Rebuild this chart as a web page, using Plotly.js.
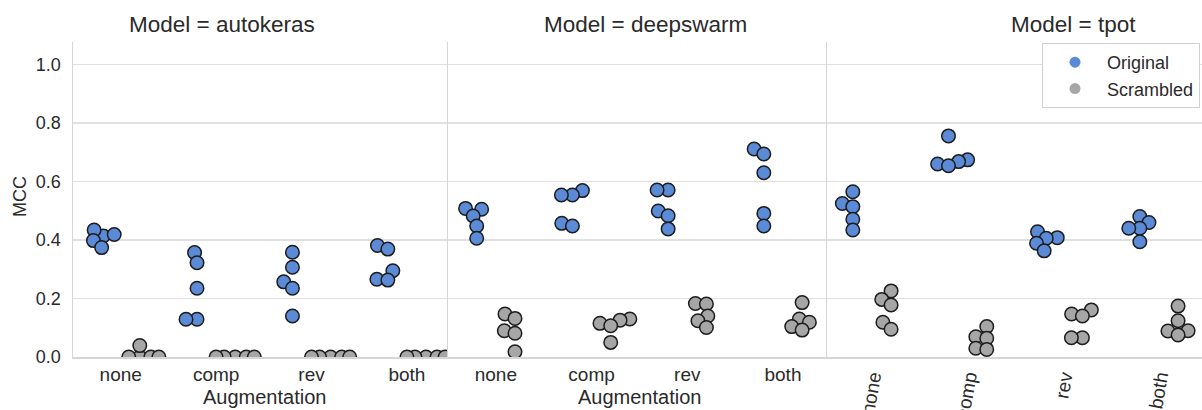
<!DOCTYPE html>
<html><head><meta charset="utf-8">
<script src="https://cdn.plot.ly/plotly-3.0.1.min.js"></script>
<style>html,body{margin:0;padding:0;background:#fff}#chart{width:1202px;height:410px}</style>
</head><body><div id="chart"></div>
<script>
// ---- data ----
const categories = ['none', 'comp', 'rev', 'both'];
const models = ['autokeras', 'deepswarm', 'tpot'];
const hues = ['Original', 'Scrambled'];
const yTicks = [0, 0.2, 0.4, 0.6, 0.8, 1.0];
const yTickText = ['0.0', '0.2', '0.4', '0.6', '0.8', '1.0'];

const autokerasOriginal = [[0.414, 0.434, 0.419, 0.398, 0.374], [0.357, 0.322, 0.235, 0.129, 0.129], [0.358, 0.307, 0.257, 0.235, 0.140], [0.381, 0.369, 0.295, 0.266, 0.263]];
const autokerasScrambled = [[0, 0, 0.039, 0, 0], [0, 0, 0, 0, 0], [0, 0, 0, 0, 0], [0, 0, 0, 0, 0]];
const deepswarmOriginal = [[0.505, 0.508, 0.482, 0.448, 0.406], [0.569, 0.554, 0.554, 0.457, 0.448], [0.571, 0.571, 0.499, 0.483, 0.438], [0.711, 0.694, 0.630, 0.491, 0.448]];
const deepswarmScrambled = [[0.147, 0.132, 0.090, 0.081, 0.018], [0.130, 0.126, 0.115, 0.107, 0.050], [0.183, 0.181, 0.140, 0.124, 0.101], [0.186, 0.130, 0.119, 0.104, 0.092]];
const tpotOriginal = [[0.565, 0.525, 0.514, 0.471, 0.434], [0.756, 0.674, 0.668, 0.660, 0.654], [0.428, 0.408, 0.406, 0.389, 0.363], [0.480, 0.460, 0.440, 0.440, 0.394]];
const tpotScrambled = [[0.226, 0.197, 0.178, 0.119, 0.095], [0.104, 0.069, 0.064, 0.030, 0.026], [0.161, 0.147, 0.140, 0.066, 0.066], [0.174, 0.124, 0.090, 0.089, 0.075]];

const seriesByModel = [
  [autokerasOriginal, autokerasScrambled],
  [deepswarmOriginal, deepswarmScrambled],
  [tpotOriginal, tpotScrambled]
];

// ---- layout geometry ----
const W = 1202, H = 410;
const M = {l: 73, r: 0, t: 42, b: 53};
const plotW = W - M.l - M.r, plotH = H - M.t - M.b;
const panelPx = [[73, 447], [448, 827], [827, 1202]];
const xRanges = [[-0.5, 3.42], [-0.5, 3.46], [-0.47, 3.45]];
const yRange = [0, 1.077];
const colors = ['#5b8ad6', '#a6a6a6'];
const dodge = [-0.2, 0.2];
const FONT = '"Liberation Sans", Arial, sans-serif';
const TXT = '#2a2a2a';

const domains = panelPx.map(p => [(p[0] - M.l) / plotW, (p[1] - M.l) / plotW]);
const pxPerUnit = plotH / (yRange[1] - yRange[0]);

// seaborn-like beeswarm, computed in pixel space
function swarm(vals, pxPerCat, d, halfWidthCat) {
  const idx = vals.map((v, i) => i).sort((a, b) => vals[a] - vals[b]);
  const placed = [];
  const out = new Array(vals.length);
  for (const i of idx) {
    const y = vals[i] * pxPerUnit;
    const nb = [];
    for (let k = placed.length - 1; k >= 0; k--) {
      if (y - placed[k].y < d) nb.push(placed[k]); else break;
    }
    let cands = [0];
    let leftFirst = true;
    for (const n of nb) {
      const dy = y - n.y;
      const dx = Math.sqrt(Math.max(d * d - dy * dy, 0)) * 1.05;
      if (leftFirst) cands.push(n.x - dx, n.x + dx); else cands.push(n.x + dx, n.x - dx);
      leftFirst = !leftFirst;
    }
    cands = cands.map((c, j) => [c, j]).sort((a, b) => (Math.abs(a[0]) - Math.abs(b[0])) || (a[1] - b[1])).map(a => a[0]);
    let x = cands[0];
    if (nb.length) {
      for (const c of cands) {
        if (nb.every(n => (n.x - c) ** 2 + (n.y - y) ** 2 >= d * d - 1e-9)) { x = c; break; }
      }
    }
    placed.push({x, y});
    out[i] = x;
  }
  const hw = halfWidthCat * pxPerCat;
  return out.map(x => Math.max(-hw, Math.min(hw, x)) / pxPerCat);
}

const traces = [];
models.forEach((m, p) => {
  const pxPerCat = (panelPx[p][1] - panelPx[p][0]) / (xRanges[p][1] - xRanges[p][0]);
  const ax = p === 0 ? '' : String(p + 1);
  hues.forEach((h, hi) => {
    const xs = [], ys = [];
    seriesByModel[p][hi].forEach((vals, ci) => {
      const offs = swarm(vals, pxPerCat, 10.5, 0.2);
      vals.forEach((v, k) => { xs.push(ci + dodge[hi] + offs[k]); ys.push(v); });
    });
    traces.push({
      type: 'scatter', mode: 'markers', x: xs, y: ys,
      xaxis: 'x' + ax, yaxis: 'y' + ax, name: h, showlegend: false,
      marker: {size: 13.5, color: colors[hi], line: {color: '#1c1c1c', width: 1.5}},
      hoverinfo: 'skip'
    });
  });
});
// legend entries
hues.forEach((h, hi) => {
  traces.push({
    type: 'scatter', mode: 'markers', x: [null], y: [null], xaxis: 'x3', yaxis: 'y3',
    name: h, showlegend: true, marker: {size: 11, color: colors[hi], line: {width: 0}}
  });
});

const gridC = '#e0e0e0', lineC = '#d6d6d6';
function xAxis(p) {
  return {
    domain: domains[p], range: xRanges[p], anchor: p === 0 ? 'y' : 'y' + (p + 1),
    tickvals: [0, 1, 2, 3], ticktext: categories, tickangle: p === 2 ? -80 : 0,
    showgrid: false, zeroline: false, showline: true, linecolor: lineC, linewidth: 1.5,
    ticks: '', ticklen: 0,
    tickfont: {family: FONT, size: 19, color: TXT}, automargin: false, fixedrange: true
  };
}
function yAxis(p) {
  const a = {
    domain: [0, 1], range: yRange, anchor: p === 0 ? 'x' : 'x' + (p + 1),
    tickvals: yTicks, ticktext: yTickText, showticklabels: p === 0,
    showgrid: true, gridcolor: gridC, gridwidth: 1.5, zeroline: false,
    showline: true, linecolor: lineC, linewidth: 1.5,
    ticks: p === 0 ? 'outside' : '', ticklen: 7, tickcolor: 'rgba(0,0,0,0)',
    tickfont: {family: FONT, size: 18, color: TXT}, automargin: false, fixedrange: true
  };
  if (p > 0) a.matches = 'y';
  return a;
}
const px2paperX = px => (px - M.l) / plotW;
const px2paperY = py => (H - M.b - py) / plotH;

const titleCenters = [222, 645, 1073];
const annotations = models.map((m, p) => ({
  text: 'Model = ' + m, xref: 'paper', yref: 'paper', x: px2paperX(titleCenters[p]), y: px2paperY(25),
  xanchor: 'center', yanchor: 'middle', showarrow: false,
  font: {family: FONT, size: 22.5, color: TXT}
}));
[264, 639].forEach(cx => annotations.push({
  text: 'Augmentation', xref: 'paper', yref: 'paper', x: px2paperX(cx), y: px2paperY(397),
  xanchor: 'center', yanchor: 'middle', showarrow: false, font: {family: FONT, size: 20, color: TXT}
}));
annotations.push({
  text: 'MCC', xref: 'paper', yref: 'paper', x: px2paperX(20), y: px2paperY(197), textangle: -90,
  xanchor: 'center', yanchor: 'middle', showarrow: false, font: {family: FONT, size: 18, color: TXT}
});

const layout = {
  width: W, height: H, margin: M, paper_bgcolor: '#fff', plot_bgcolor: '#fff',
  font: {family: FONT, color: TXT},
  xaxis: xAxis(0), xaxis2: xAxis(1), xaxis3: xAxis(2),
  yaxis: yAxis(0), yaxis2: yAxis(1), yaxis3: yAxis(2),
  showlegend: true,
  legend: {
    x: px2paperX(1200), xanchor: 'right', y: px2paperY(43), yanchor: 'top',
    bgcolor: '#fff', bordercolor: '#d0d0d0', borderwidth: 1,
    font: {family: FONT, size: 18, color: TXT}, itemwidth: 54
  },
  annotations: annotations
};
Plotly.newPlot('chart', traces, layout, {displayModeBar: false, staticPlot: true});
</script></body></html>
